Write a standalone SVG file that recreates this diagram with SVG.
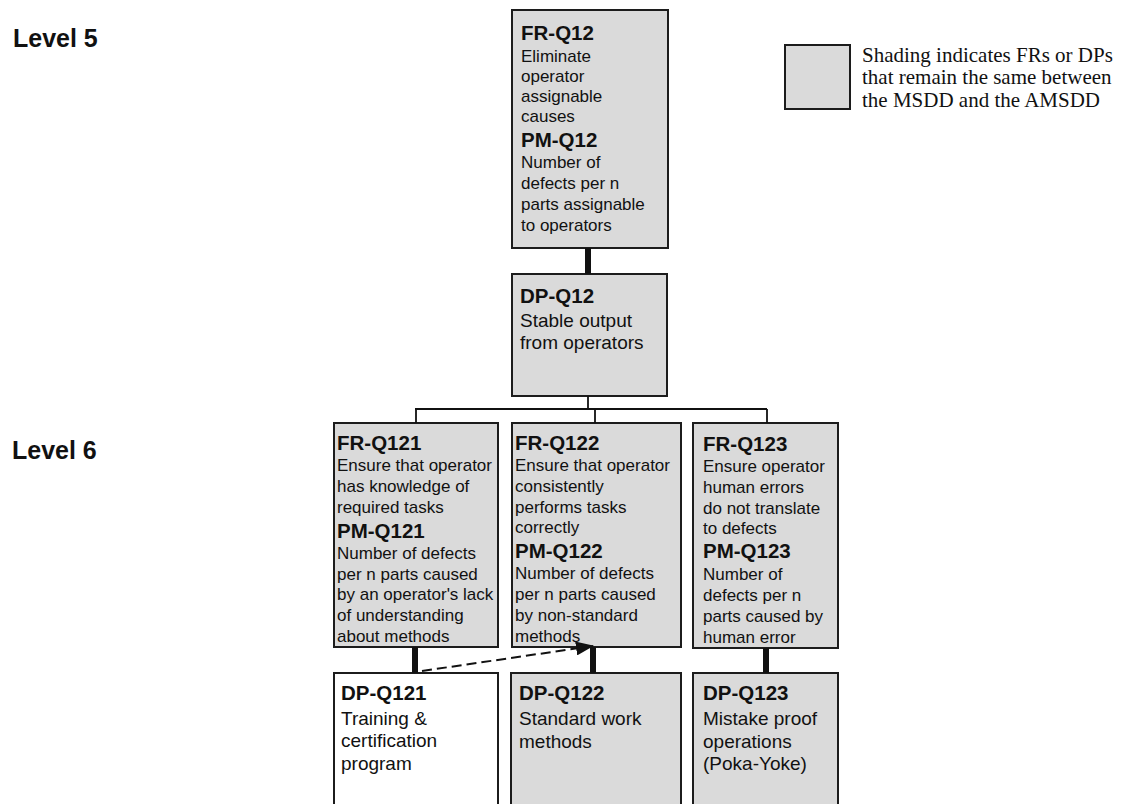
<svg xmlns="http://www.w3.org/2000/svg" width="1128" height="804" viewBox="0 0 1128 804">
  <style>
    .box { stroke: #1c1c1c; stroke-width: 2; }
    .shade { fill: #dadada; }
    .plain { fill: #ffffff; }
    .t { font-family: "Liberation Sans", Arial, sans-serif; fill: #111; }
    .h { font-weight: bold; font-size: 20.5px; }
    .r { font-size: 17px; }
    .rd { font-size: 19px; }
    .lvl { font-family: "Liberation Sans", Arial, sans-serif; font-weight: bold; font-size: 25px; fill: #111; }
    .leg { font-family: "Liberation Serif", "Times New Roman", serif; font-size: 21px; fill: #111; }
    .thick { stroke: #111; stroke-width: 6; fill: none; }
    .thin { stroke: #111; stroke-width: 1.8; fill: none; }
    .dash { stroke: #111; stroke-width: 2; stroke-dasharray: 10 5; fill: none; }
  </style>
  <defs>
    <marker id="arrow" viewBox="0 0 18 14" refX="17" refY="7" markerWidth="18" markerHeight="14" markerUnits="userSpaceOnUse" orient="auto">
      <path d="M0,0 L18,7 L0,14 Z" fill="#111"/>
    </marker>
  </defs>

  <rect width="1128" height="804" fill="#ffffff"/>

  <!-- level labels -->
  <text class="lvl" x="13" y="47">Level 5</text>
  <text class="lvl" x="12" y="459">Level 6</text>

  <!-- legend -->
  <g id="legend">
    <rect class="box shade" x="785" y="45" width="65" height="64"/>
    <text class="leg" x="862" y="62">Shading indicates FRs or DPs</text>
    <text class="leg" x="862" y="84">that remain the same between</text>
    <text class="leg" x="862" y="107">the MSDD and the AMSDD</text>
  </g>

  <!-- level 5 -->
  <g id="fr-q12">
    <rect class="box shade" x="512" y="10" width="156" height="238"/>
    <text class="t h" x="521" y="40">FR-Q12</text>
    <text class="t r" x="521" y="62">Eliminate</text>
    <text class="t r" x="521" y="82">operator</text>
    <text class="t r" x="521" y="102">assignable</text>
    <text class="t r" x="521" y="122">causes</text>
    <text class="t h" x="521" y="147">PM-Q12</text>
    <text class="t r" x="521" y="168">Number of</text>
    <text class="t r" x="521" y="189">defects per n</text>
    <text class="t r" x="521" y="210">parts assignable</text>
    <text class="t r" x="521" y="231">to operators</text>
  </g>

  <g id="dp-q12">
    <rect class="box shade" x="512" y="274" width="155" height="122"/>
    <text class="t h" x="520" y="303">DP-Q12</text>
    <text class="t rd" x="520" y="327">Stable output</text>
    <text class="t rd" x="520" y="349">from operators</text>
  </g>

  <!-- level 6 functional requirements -->
  <g id="fr-q121">
    <rect class="box shade" x="334" y="423" width="164" height="224"/>
    <text class="t h" x="337" y="450">FR-Q121</text>
    <text class="t r" x="337" y="471">Ensure that operator</text>
    <text class="t r" x="337" y="492">has knowledge of</text>
    <text class="t r" x="337" y="513">required tasks</text>
    <text class="t h" x="337" y="538">PM-Q121</text>
    <text class="t r" x="337" y="559">Number of defects</text>
    <text class="t r" x="337" y="580">per n parts caused</text>
    <text class="t r" x="337" y="600">by an operator's lack</text>
    <text class="t r" x="337" y="621">of understanding</text>
    <text class="t r" x="337" y="642">about methods</text>
  </g>

  <g id="fr-q122">
    <rect class="box shade" x="512" y="423" width="169" height="224"/>
    <text class="t h" x="515" y="450">FR-Q122</text>
    <text class="t r" x="515" y="471">Ensure that operator</text>
    <text class="t r" x="515" y="492">consistently</text>
    <text class="t r" x="515" y="513">performs tasks</text>
    <text class="t r" x="515" y="533">correctly</text>
    <text class="t h" x="515" y="558">PM-Q122</text>
    <text class="t r" x="515" y="579">Number of defects</text>
    <text class="t r" x="515" y="600">per n parts caused</text>
    <text class="t r" x="515" y="621">by non-standard</text>
    <text class="t r" x="515" y="642">methods</text>
  </g>

  <g id="fr-q123">
    <rect class="box shade" x="693" y="423" width="145" height="225"/>
    <text class="t h" x="703" y="451">FR-Q123</text>
    <text class="t r" x="703" y="472">Ensure operator</text>
    <text class="t r" x="703" y="493">human  errors</text>
    <text class="t r" x="703" y="514">do not translate</text>
    <text class="t r" x="703" y="534">to defects</text>
    <text class="t h" x="703" y="558">PM-Q123</text>
    <text class="t r" x="703" y="580">Number of</text>
    <text class="t r" x="703" y="601">defects per n</text>
    <text class="t r" x="703" y="622">parts caused by</text>
    <text class="t r" x="703" y="643">human error</text>
  </g>

  <!-- level 6 design parameters -->
  <g id="dp-q121">
    <rect class="box plain" x="334" y="673" width="164" height="140"/>
    <text class="t h" x="341" y="700">DP-Q121</text>
    <text class="t rd" x="341" y="725">Training &amp;</text>
    <text class="t rd" x="341" y="747">certification</text>
    <text class="t rd" x="341" y="770">program</text>
  </g>

  <g id="dp-q122">
    <rect class="box shade" x="511" y="673" width="170" height="140"/>
    <text class="t h" x="519" y="700">DP-Q122</text>
    <text class="t rd" x="519" y="725">Standard work</text>
    <text class="t rd" x="519" y="748">methods</text>
  </g>

  <g id="dp-q123">
    <rect class="box shade" x="693" y="673" width="145" height="140"/>
    <text class="t h" x="703" y="700">DP-Q123</text>
    <text class="t rd" x="703" y="725">Mistake proof</text>
    <text class="t rd" x="703" y="748">operations</text>
    <text class="t rd" x="703" y="770">(Poka-Yoke)</text>
  </g>

  <!-- connectors, drawn last so the arrowhead sits over the box edge -->
  <g id="connectors">
    <line class="thick" x1="588" y1="248" x2="588" y2="274"/>
    <polyline class="thin" points="588,396 588,409"/>
    <line class="thin" x1="415" y1="409" x2="767" y2="409"/>
    <line class="thin" x1="416" y1="409" x2="416" y2="423"/>
    <line class="thin" x1="595" y1="409" x2="595" y2="423"/>
    <line class="thin" x1="767" y1="409" x2="767" y2="423"/>
    <line class="thick" x1="415" y1="647" x2="415" y2="673"/>
    <line class="thick" x1="593" y1="647" x2="593" y2="673"/>
    <line class="thick" x1="766" y1="648" x2="766" y2="673"/>
    <line class="dash" x1="422" y1="671" x2="593" y2="646" marker-end="url(#arrow)"/>
  </g>
</svg>
